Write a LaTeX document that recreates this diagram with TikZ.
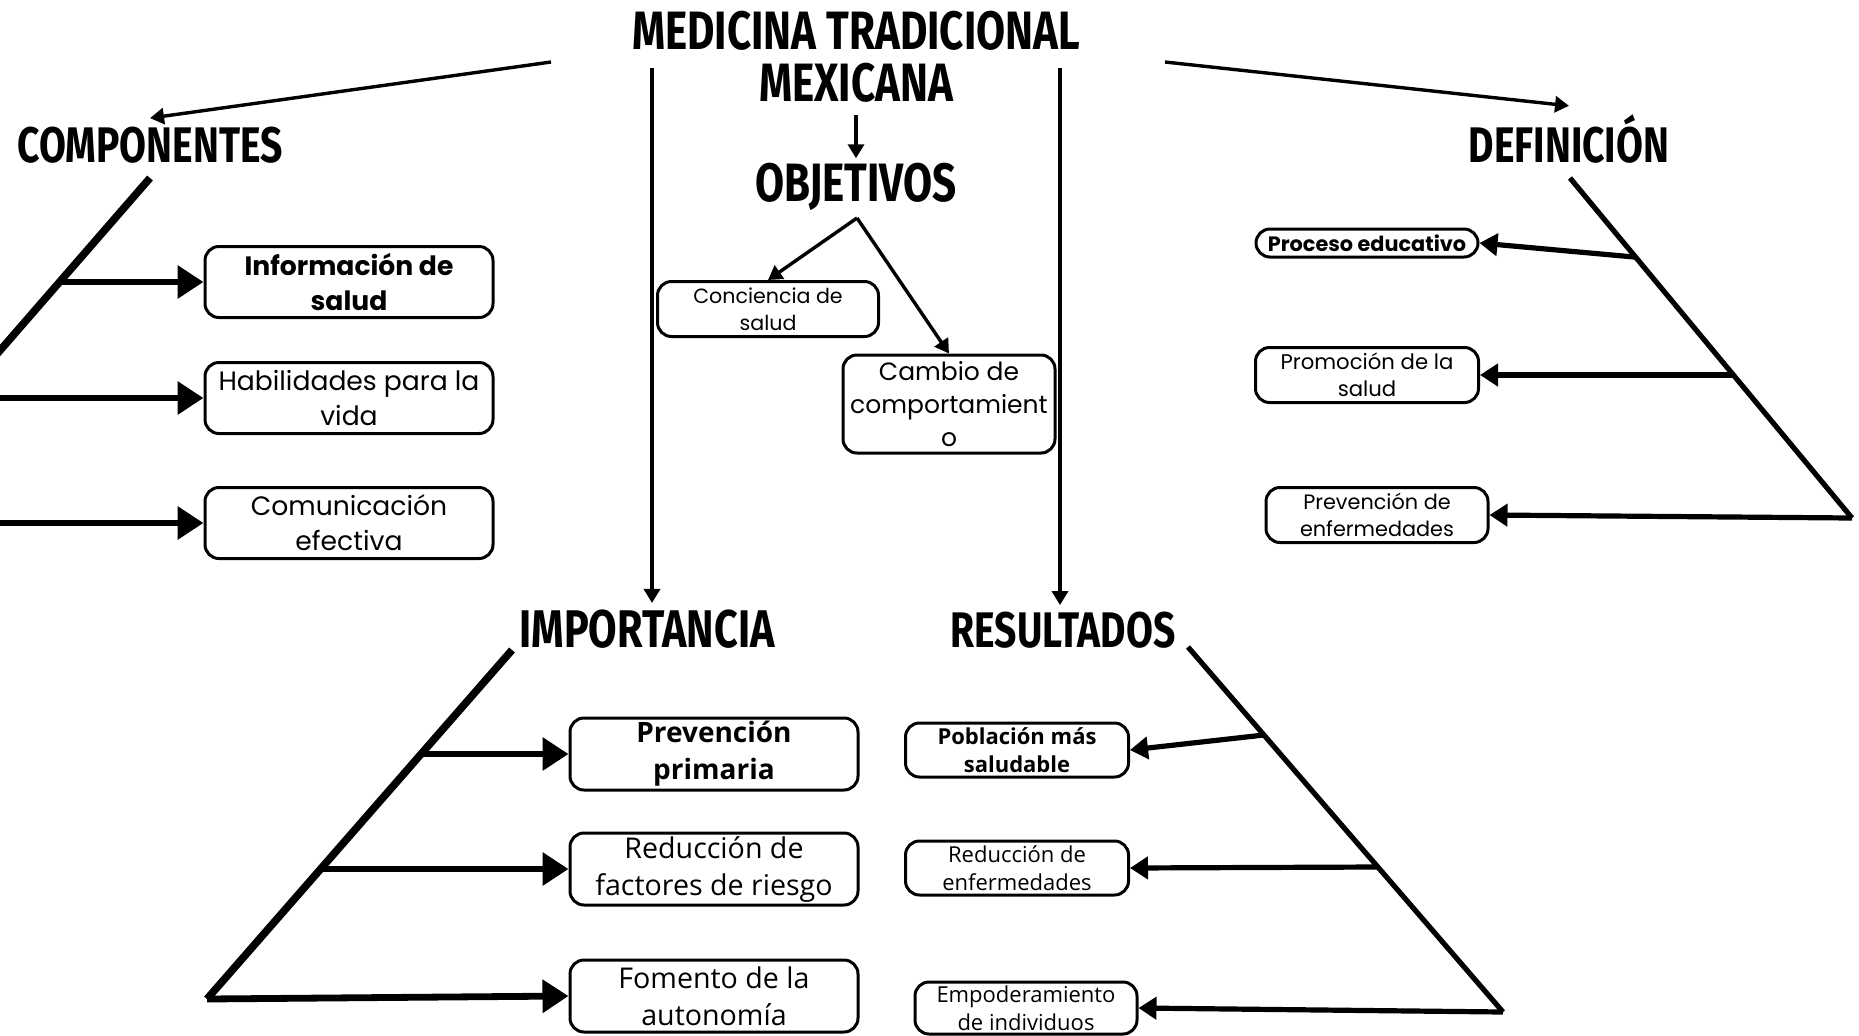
\documentclass[tikz,border=0pt]{standalone}
\usepackage{fontspec}
\usetikzlibrary{arrows.meta,positioning}
\newfontfamily\headfont[FakeStretch=0.78]{Fira Sans}
\newfontfamily\mfont{Poppins}
\newfontfamily\ofont{Open Sans}

\tikzset{
	head/.style={font=\headfont\bfseries\fontsize{25}{26}\selectfont, inner sep=0pt, align=center},
	box/.style={draw, line width=1.5pt, rounded corners=7pt, align=center, inner sep=0pt},
	thinarrow/.style={line width=1.7pt, -{Triangle[length=7pt,width=8pt]}},
	stem/.style={line width=3.8pt},
	fork/.style={line width=3.4pt, -{Triangle[length=13pt,width=16pt]}},
	slimstem/.style={line width=2.6pt},
	slimfork/.style={line width=2.6pt, -{Triangle[length=9pt,width=11pt]}},
}

\begin{document}
\begin{tikzpicture}[x=0.5pt,y=-0.5pt]
	\useasboundingbox (0,0) rectangle (1859,1035);
	\clip (0,0) rectangle (1859,1035);

	% titulos
	\node[head,font=\headfont\bfseries\fontsize{27}{26}\selectfont] (title) at (856,57) {MEDICINA TRADICIONAL\\MEXICANA};
	\node[head,font=\headfont\bfseries\fontsize{27}{26}\selectfont,anchor=base] (obj) at (856,201) {OBJETIVOS};
	\node[head,anchor=base] (comp) at (150,162) {COMPONENTES};
	\node[head,anchor=base] (defi) at (1569,162) {DEFINICIÓN};
	\node[head,anchor=base,font=\headfont\bfseries\fontsize{26.5}{26}\selectfont] (imp) at (647,647) {IMPORTANCIA};
	\node[head,anchor=base] (res) at (1063,647) {RESULTADOS};

	% componentes
	\node[box,minimum width=144pt,minimum height=35.5pt,font=\mfont\bfseries\fontsize{13.3}{17.5}\selectfont] (info) at (349,282) {Información de\\salud};
	\node[box,minimum width=144pt,minimum height=35.5pt,font=\mfont\fontsize{13.3}{17.5}\selectfont] (hab) at (349,398) {Habilidades para la\\vida};
	\node[box,minimum width=144pt,minimum height=35.5pt,font=\mfont\fontsize{13.3}{17.5}\selectfont] (comm) at (349,523) {Comunicación\\efectiva};

	% objetivos
	\node[box,minimum width=110.5pt,minimum height=27.5pt,font=\mfont\fontsize{10.3}{13.5}\selectfont] (conc) at (768,309) {Conciencia de\\salud};
	\node[box,minimum width=106pt,minimum height=49pt,font=\mfont\fontsize{12.5}{16.5}\selectfont] (camb) at (949,404) {Cambio de\\comportamient\\o};

	% definicion
	\node[box,rounded corners=7pt,minimum width=111pt,minimum height=14pt,font=\mfont\bfseries\fontsize{10.4}{12}\selectfont] (proc) at (1367,243) {Proceso educativo};
	\node[box,minimum width=111.5pt,minimum height=27.5pt,font=\mfont\fontsize{10.6}{13.5}\selectfont] (prom) at (1367,375) {Promoción de la\\salud};
	\node[box,minimum width=111pt,minimum height=27.5pt,font=\mfont\fontsize{10.4}{13.5}\selectfont] (prev) at (1377,515) {Prevención de\\enfermedades};

	% importancia
	\node[box,minimum width=144pt,minimum height=36pt,font=\ofont\bfseries\fontsize{14}{18.5}\selectfont] (prim) at (714,754) {Prevención\\primaria};
	\node[box,minimum width=144pt,minimum height=36pt,font=\ofont\fontsize{14.3}{18.5}\selectfont] (fact) at (714,869) {Reducción de\\factores de riesgo};
	\node[box,minimum width=144pt,minimum height=36pt,font=\ofont\fontsize{14.3}{18.5}\selectfont] (fom) at (714,996) {Fomento de la\\autonomía};

	% resultados
	\node[box,minimum width=111.5pt,minimum height=27pt,font=\ofont\bfseries\fontsize{11}{14}\selectfont] (pob) at (1017,750) {Población más\\saludable};
	\node[box,minimum width=111.5pt,minimum height=27pt,font=\ofont\fontsize{11}{14}\selectfont] (redu) at (1017,868) {Reducción de\\enfermedades};
	\node[box,minimum width=111pt,minimum height=26pt,font=\ofont\fontsize{11}{14}\selectfont] (emp) at (1026,1008) {Empoderamiento\\de individuos};

	% puntos de las ramas
	\coordinate (t1) at (551,62);
	\coordinate (t2) at (1165,62);
	\coordinate (v1) at (652,68);
	\coordinate (v2) at (1060,68);
	\coordinate (o0) at (857,218);
	\coordinate (cs) at (150,178);
	\coordinate (c1) at (60,282);
	\coordinate (c2) at (-40,398);
	\coordinate (c3) at (-150,523);
	\coordinate (ds) at (1570,178);
	\coordinate (d1) at (1634,257);
	\coordinate (d2) at (1732,375);
	\coordinate (d3) at (1852,518);
	\coordinate (is) at (512,650);
	\coordinate (i1) at (422,754);
	\coordinate (i2) at (318,869);
	\coordinate (i3) at (207,999);
	\coordinate (rs) at (1188,647);
	\coordinate (r1) at (1264,735);
	\coordinate (r2) at (1377,867);
	\coordinate (r3) at (1503,1012);

	% flechas del titulo
	\draw[thinarrow] (t1) -- ([yshift=4pt]comp.north);
	\draw[thinarrow] (t2) -- ([yshift=4pt]defi.north);
	\draw[thinarrow,shorten <=6pt,shorten >=2pt] (title.south) -- (obj.north);
	\draw[thinarrow] (v1) -- ([yshift=3pt]v1 |- imp.north);
	\draw[thinarrow] (v2) -- ([yshift=3pt]v2 |- res.north);
	\draw[thinarrow] (o0) -- (conc.north);
	\draw[thinarrow] (o0) -- (camb.north);

	% ramas
	\draw[stem] (cs) -- (c3);
	\draw[fork] (c1) -- (info.west);
	\draw[fork] (c2) -- (hab.west);
	\draw[fork] (c3) -- (comm.west);

	\draw[slimstem] (ds) -- (d3);
	\draw[slimfork] (d1) -- (proc.east);
	\draw[slimfork] (d2) -- (prom.east);
	\draw[slimfork] (d3) -- (prev.east);

	\draw[stem] (is) -- (i3);
	\draw[fork] (i1) -- (prim.west);
	\draw[fork] (i2) -- (fact.west);
	\draw[fork] (i3) -- (fom.west);

	\draw[slimstem] (rs) -- (r3);
	\draw[slimfork] (r1) -- (pob.east);
	\draw[slimfork] (r2) -- (redu.east);
	\draw[slimfork] (r3) -- (emp.east);
\end{tikzpicture}
\end{document}
